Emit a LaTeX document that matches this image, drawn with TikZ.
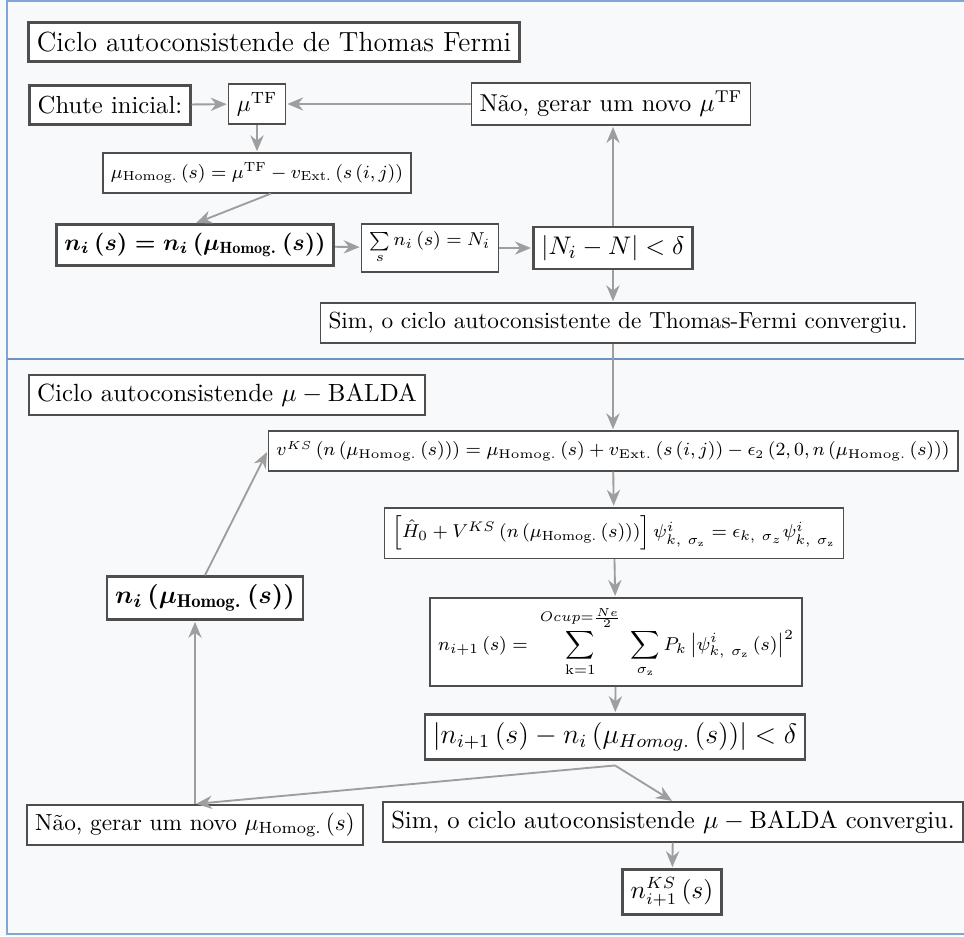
\documentclass[tikz,border=0pt]{standalone}
\usepackage{amsmath,amssymb}
\usepackage{fontspec}
\usepackage{xcolor}
\usepackage{tikz}
\usetikzlibrary{arrows.meta,positioning,calc}
\definecolor{FrameC}{RGB}{128,166,216}
\definecolor{SepC}{RGB}{108,146,198}
\definecolor{BgC}{RGB}{248,249,251}
\definecolor{BoxC}{RGB}{78,78,78}
\definecolor{ArrC}{RGB}{158,158,158}
\tikzset{
  blk/.style={draw=BoxC,fill=white,line width=0.7pt,inner sep=3.5pt,
              minimum height=17pt,font=\normalsize},
  blkb/.style={blk,line width=1.1pt},
  fs/.style={font=\fontsize{#1pt}{#1pt}\selectfont},
  bfs/.style={font=\fontsize{#1pt}{#1pt}\selectfont\boldmath},
  flow/.style={-{Stealth[length=2.4mm,width=2mm]},line width=0.8pt,ArrC,shorten >=0.5pt},
}

\begin{document}
\begin{tikzpicture}[x=0.43pt,y=-0.43pt]
  % fundo e moldura
  \fill[BgC] (0,0) rectangle (964,936);
  \useasboundingbox (0,0) rectangle (964,936);
  \draw[FrameC,line width=1.2pt] (964,1) -- (7,1) -- (7,934) -- (964,934);
  \draw[SepC,line width=1.2pt] (7,359) -- (964,359);

  % ciclo de Thomas-Fermi
  \node[blkb,fs=11.9] (tf) at (274,42) {Ciclo autoconsistende de Thomas Fermi};
  \node[blkb,fs=10.6] (chute) at (110,105) {Chute inicial:};
  \node[blk] (muTF) at (257,104) {$\mu^{\text{TF}}$};
  \node[blk,fs=10.5] (naoTF) at (611,104) {Não, gerar um novo $\mu^{\text{TF}}$};
  \node[blk,fs=8.1] (muH) at (257,173) {$\mu_{\text{Homog.}}\left(s\right)=\mu^{\text{TF}}-v_{\text{Ext.}}\left(s\left(i,j\right)\right)$};
  \node[blkb,bfs=10] (ni) at (195,245) {$n_i\left(s\right)=n_i\left(\mu_{\mathrm{Homog.}}\left(s\right)\right)$};
  \node[blk,fs=7.9] (soma) at (430,248) {$\sum\limits_{s}n_i\left(s\right)=N_i$};
  \node[blkb,fs=11] (condTF) at (613,248) {$\left|N_i-N\right|<\delta$};
  \node[blk] (simTF) at (618,323) {Sim, o ciclo autoconsistente de Thomas-Fermi convergiu.};

  \draw[flow] (chute) -- (muTF);
  \draw[flow] (naoTF) -- (muTF);
  \draw[flow] (muTF) -- (muH);
  \draw[flow] ([xshift=6pt]muH.south) -- (ni.north);
  \draw[flow] (ni) -- (soma);
  \draw[flow] (soma) -- (condTF);
  \draw[flow] (condTF.north) -- (condTF.north |- naoTF.south);
  \draw[flow] (condTF.south) -- (condTF.south |- simTF.north);

  % ciclo mu-BALDA
  \node[blk,fs=10.7] (balda) at (227,395) {Ciclo autoconsistende $\mu-\text{BALDA}$};
  \node[blk,fs=7.8] (vks) at (613,451) {$v^{KS}\left(n\left(\mu_{\text{Homog.}}\left(s\right)\right)\right)=\mu_{\text{Homog.}}\left(s\right)+v_{\text{Ext.}}\left(s\left(i,j\right)\right)-\epsilon_2\left(2,0,n\left(\mu_{\text{Homog.}}\left(s\right)\right)\right)$};
  \node[blk,fs=8.2] (ham) at (614,533) {$\left[\hat{H}_0+V^{KS}\left(n\left(\mu_{\text{Homog.}}\left(s\right)\right)\right)\right]\psi^{i}_{k,\ \sigma_{\mathrm{z}}}=\epsilon_{k,\ \sigma_z}\psi^{i}_{k,\ \sigma_{\mathrm{z}}}$};
  \node[blk,fs=8.5] (dens) at (616,642) {$\displaystyle n_{i+1}\left(s\right)=\ \sum_{\mathrm{k}=1}^{Ocup=\frac{Ne}{2}}\ \sum_{\sigma_{\mathrm{z}}}P_k\left|\psi^{i}_{k,\ \sigma_{\mathrm{z}}}\left(s\right)\right|^2$};
  \node[blkb,fs=12] (condKS) at (615,737) {$\left|n_{i+1}\left(s\right)-n_i\left(\mu_{Homog.}\left(s\right)\right)\right|<\delta$};
  \node[blk] (naoKS) at (195,825) {Não, gerar um novo $\mu_{\text{Homog.}}\left(s\right)$};
  \node[blk,fs=10.6] (simKS) at (673,822) {Sim, o ciclo autoconsistende $\mu-\text{BALDA}$ convergiu.};
  \node[blkb,fs=10.5] (nKS) at (672,892) {$n^{KS}_{i+1}\left(s\right)$};
  \node[blkb,bfs=11.4] (niH) at (205,598) {$n_i\left(\mu_{\mathrm{Homog.}}\left(s\right)\right)$};

  \draw[flow] (vks.north |- simTF.south) -- (vks.north);
  \draw[flow] (vks) -- (ham);
  \draw[flow] (ham) -- (dens);
  \draw[flow] (dens) -- (condKS);
  \draw[flow] ([yshift=-2pt]condKS.south) -- (naoKS.north);
  \draw[flow] ([yshift=-2pt]condKS.south) -- (simKS.north);
  \draw[flow] (naoKS.north) -- (naoKS.north |- niH.south);
  \draw[flow] (niH.north) -- (vks.west);
  \draw[flow] (simKS) -- (nKS);
\end{tikzpicture}
\end{document}
